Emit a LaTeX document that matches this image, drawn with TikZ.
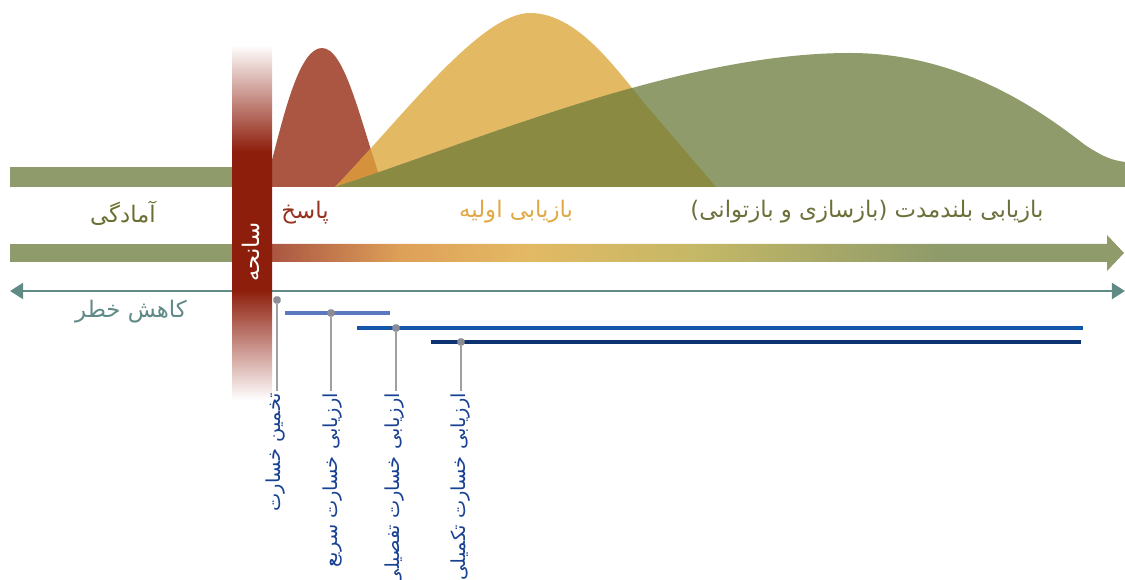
\documentclass[tikz,border=0pt]{standalone}
\usepackage{fontspec}
\newfontfamily\arabicfont[Script=Arabic]{DejaVu Sans}
\TeXXeTstate=1
\usetikzlibrary{arrows.meta}

\definecolor{hillred}{RGB}{170,86,66}
\definecolor{hillyellow}{RGB}{227,185,100}
\definecolor{hillgreen}{RGB}{143,155,106}
\definecolor{overlapRY}{RGB}{213,145,60}
\definecolor{overlapG}{RGB}{138,138,66}
\definecolor{fadeorange}{RGB}{222,160,88}
\definecolor{fadetan}{RGB}{196,184,102}
\definecolor{crashred}{RGB}{142,30,12}
\definecolor{prepcolor}{RGB}{107,110,48}
\definecolor{respcolor}{RGB}{150,50,30}
\definecolor{earlycolor}{RGB}{225,168,70}
\definecolor{longcolor}{RGB}{110,112,60}
\definecolor{riskcolor}{RGB}{95,138,134}
\definecolor{assesscolor}{RGB}{25,65,145}
\definecolor{quickbar}{RGB}{90,120,192}
\definecolor{detailbar}{RGB}{20,87,168}
\definecolor{extrabar}{RGB}{12,50,112}
\definecolor{markgrey}{RGB}{140,140,150}
\definecolor{stemgrey}{RGB}{160,160,160}

\pgfdeclarehorizontalshading{arrowfade}{100bp}{color(0bp)=(hillred); color(25bp)=(hillred); color(32.5bp)=(fadeorange); color(40bp)=(hillyellow); color(50bp)=(fadetan); color(64bp)=(hillgreen); color(100bp)=(hillgreen)}
\pgfdeclareverticalshading{crashfade}{100bp}{color(0bp)=(white); color(25bp)=(white); color(40.5bp)=(crashred); color(60bp)=(crashred); color(75bp)=(white); color(100bp)=(white)}

\newcommand{\fatext}[1]{\beginR #1\endR}

\begin{document}
\begin{tikzpicture}[x=0.02cm, y=-0.02cm,
	stagetext/.style={font=\arabicfont\fontsize{13}{15}\selectfont, inner sep=0pt},
	assess/.style={font=\arabicfont\fontsize{11}{13}\selectfont, text=assesscolor, rotate=90, anchor=east, inner sep=1pt},
	marker/.style={fill=markgrey, minimum size=4pt, inner sep=0pt, rounded corners=0.9pt},
	stem/.style={draw=stemgrey, line width=1.1pt},
	phasebar/.style={line width=2.8pt},
	redpath/.style={insert path={(272,187) -- (272,160) .. controls (285,110) and (300,48) .. (322,48) .. controls (345,48) and (360,120) .. (383,187) -- cycle}},
	yellowpath/.style={insert path={(335,187) .. controls (400,120) and (480,13) .. (530,13) .. controls (580,13) and (620,75) .. (650,110) -- (716,187) -- cycle}},
	greenpath/.style={insert path={(335,187) .. controls (480,140) and (680,53) .. (850,53) .. controls (960,53) and (1040,110) .. (1085,145) .. controls (1105,158) and (1112,160) .. (1125,162) -- (1125,187) -- cycle}}]
	\useasboundingbox (0,0) rectangle (1125,580);

	\fill[hillgreen] (10,167) rectangle (1125,187);
	\fill[hillred, redpath];
	\fill[hillyellow, yellowpath];
	\begin{scope}
		\clip[redpath];
		\fill[overlapRY, yellowpath];
	\end{scope}
	\fill[hillgreen, greenpath];
	\begin{scope}
		\clip[yellowpath];
		\fill[overlapG, greenpath];
	\end{scope}

	\node[stagetext, text=prepcolor]	(prep) at (123,213) {\fatext{آمادگی}};
	\node[stagetext, text=respcolor]	(resp) at (305,213) {\fatext{پاسخ}};
	\node[stagetext, text=earlycolor]	(early) at (516,212) {\fatext{بازیابی اولیه}};
	\node[stagetext, text=longcolor]	(long) at (867,212) {\fatext{بازیابی بلندمدت (بازسازی و بازتوانی)}};

	\fill[hillgreen] (10,244) rectangle (272,262);
	\shade[shading=arrowfade] (272,244) -- (1107,244) -- (1107,235) -- (1124,253) -- (1107,271) -- (1107,262) -- (272,262) -- cycle;

	\coordinate (riskL) at (10,291);
	\coordinate (riskR) at (1125,291);
	\draw[riskcolor, line width=1.7pt, {Triangle[length=7.5pt, width=9pt]}-{Triangle[length=7.5pt, width=9pt]}] (riskL) -- (riskR);
	\node[stagetext, text=riskcolor]	(risk) at (131,312) {\fatext{کاهش خطر}};

	\shade[shading=crashfade] (232,45) rectangle (272,400);
	\node[stagetext, text=white, rotate=90]	(crash) at (251,252) {\fatext{سانحه}};

	\draw[phasebar, quickbar] (285,313) -- (390,313);
	\draw[phasebar, detailbar] (357,328) -- (1083,328);
	\draw[phasebar, extrabar] (431,342) -- (1081,342);

	\node[marker]	(m1) at (277,300) {};
	\node[marker]	(m2) at (331,313) {};
	\node[marker]	(m3) at (396,328) {};
	\node[marker]	(m4) at (461,342) {};

	\node[assess]	(t1) at (276,391) {\fatext{تخمین خسارت}};
	\node[assess]	(t2) at (333,391) {\fatext{ارزیابی خسارت سریع}};
	\node[assess]	(t3) at (395,391) {\fatext{ارزیابی خسارت تفصیلی}};
	\node[assess]	(t4) at (461,391) {\fatext{ارزیابی خسارت تکمیلی}};

	\draw[stem] (m1) -- (m1 |- t1.east);
	\draw[stem] (m2) -- (m2 |- t2.east);
	\draw[stem] (m3) -- (m3 |- t3.east);
	\draw[stem] (m4) -- (m4 |- t4.east);
\end{tikzpicture}
\end{document}
